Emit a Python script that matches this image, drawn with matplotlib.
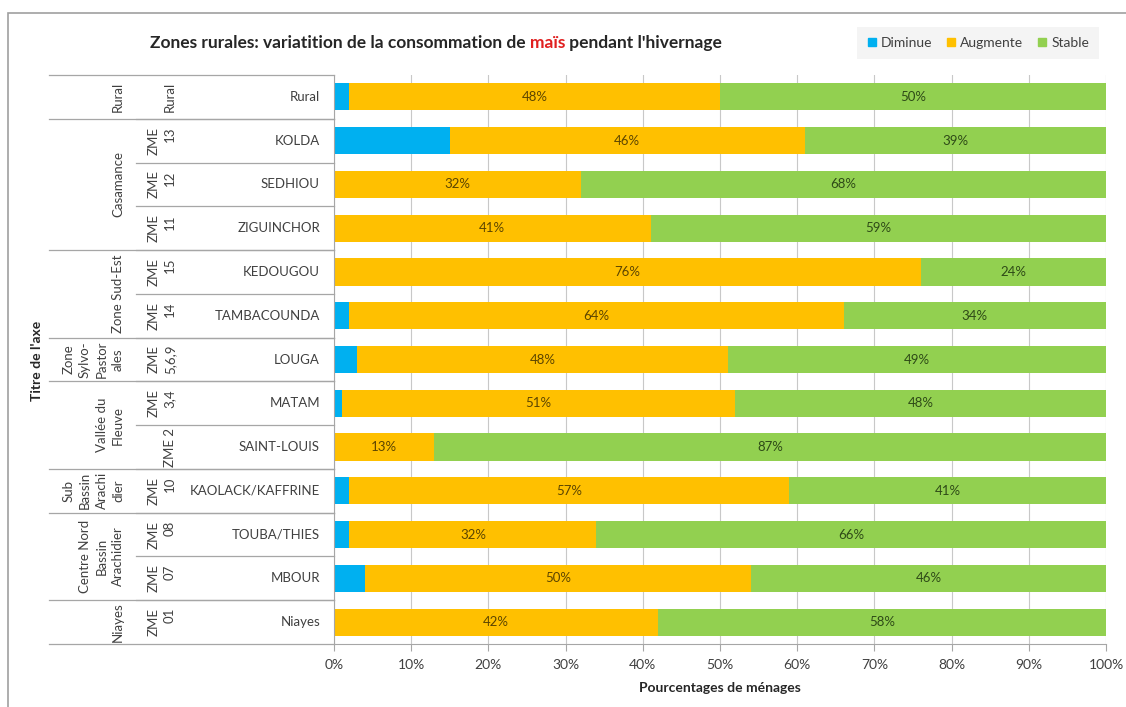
"""
Stacked horizontal bars: change in maize consumption during the rainy
season, by rural livelihood zone.
"""
import matplotlib.pyplot as plt
import numpy as np
from matplotlib.lines import Line2D
from matplotlib.patches import Rectangle
from matplotlib.transforms import blended_transform_factory

plt.rcParams["font.family"] = ["Lato", "DejaVu Sans"]

# rows from top to bottom
departements = [
    "Rural", "KOLDA", "SEDHIOU", "ZIGUINCHOR", "KEDOUGOU", "TAMBACOUNDA",
    "LOUGA", "MATAM", "SAINT-LOUIS", "KAOLACK/KAFFRINE", "TOUBA/THIES",
    "MBOUR", "Niayes",
]
zme = [
    "Rural", "ZME\n13", "ZME\n12", "ZME\n11", "ZME\n15", "ZME\n14",
    "ZME\n5,6,9", "ZME\n3,4", "ZME 2", "ZME\n10", "ZME\n08", "ZME\n07",
    "ZME\n01",
]
# (label, first row, last row)
zones = [
    ("Rural", 0, 0),
    ("Casamance", 1, 3),
    ("Zone Sud-Est", 4, 5),
    ("Zone\nSylvo-\nPastor\nales", 6, 6),
    ("Vallée du\nFleuve", 7, 8),
    ("Sub\nBassin\nArachi\ndier", 9, 9),
    ("Centre Nord\nBassin\nArachidier", 10, 11),
    ("Niayes", 12, 12),
]

diminue = [2, 15, 0, 0, 0, 2, 3, 1, 0, 2, 2, 4, 0]
augmente = [48, 46, 32, 41, 76, 64, 48, 51, 13, 57, 32, 50, 42]
stable = [50, 39, 68, 59, 24, 34, 49, 48, 87, 41, 66, 46, 58]

series = [
    ("Diminue", diminue, "#00B0F0", None),
    ("Augmente", augmente, "#FFC000", "#5c4500"),
    ("Stable", stable, "#92D050", "#2e4a17"),
]

W, H = 1126, 707
fig = plt.figure(figsize=(W / 100, H / 100), dpi=100)
ax = fig.add_axes([334 / W, 63 / H, 772 / W, 569 / H])

y = np.arange(len(departements))
left = np.zeros(len(departements))
handles = []
for name, vals, color, label_color in series:
    vals = np.array(vals, dtype=float)
    ax.barh(y, vals, left=left, height=0.62, color=color, zorder=2)
    if label_color:
        for yi, (l, v) in enumerate(zip(left, vals)):
            if v > 0:
                ax.text(l + v / 2, yi, f"{v:.0f}%", ha="center", va="center",
                        fontsize=9.5, color=label_color, zorder=3)
    left += vals
    handles.append(Line2D([], [], marker="s", linestyle="none", markersize=6,
                          color=color, label=name))

ax.set_xlim(0, 100)
ax.set_ylim(len(departements) - 0.5, -0.5)
ax.set_xticks(np.arange(0, 101, 10))
ax.set_xticklabels([f"{t}%" for t in range(0, 101, 10)], fontsize=10,
                   color="#404040")
ax.set_yticks([])
ax.grid(axis="x", color="#c8c8c8", linewidth=0.8, zorder=0)
ax.tick_params(axis="x", length=5, color="#a6a6a6", pad=6)
for side in ("top", "right"):
    ax.spines[side].set_visible(False)
for side in ("left", "bottom"):
    ax.spines[side].set_color("#a6a6a6")
ax.set_xlabel("Pourcentages de ménages", fontsize=10, fontweight="bold",
              color="#262626", labelpad=8)

# multi-level category axis on the left
tr = blended_transform_factory(fig.transFigure, ax.transData)
line_kw = dict(transform=tr, color="#a6a6a6", linewidth=0.9, clip_on=False)
for i, name in enumerate(departements):
    fig.text(320 / W, i, name, transform=tr, ha="right", va="center",
             fontsize=9.5, color="#404040")
    fig.text(176 / W, i, zme[i], transform=tr, ha="right", va="center",
             rotation=90, fontsize=9.5, color="#404040", linespacing=1.45)
    if i > 0:
        fig.add_artist(Line2D([136 / W, 334 / W], [i - 0.5, i - 0.5],
                              **line_kw))
for label, first, last in zones:
    fig.text(124 / W, (first + last) / 2, label, transform=tr, ha="right",
             va="center", rotation=90, fontsize=9.5, color="#404040",
             linespacing=1.45, multialignment="center")
    fig.add_artist(Line2D([49 / W, 334 / W], [first - 0.5, first - 0.5],
                          **line_kw))
fig.add_artist(Line2D([49 / W, 334 / W], [len(departements) - 0.5] * 2,
                      **line_kw))

fig.text(37 / W, 0.49, "Titre de l'axe", rotation=90, ha="center",
         va="center", fontsize=10, fontweight="bold", color="#262626")

# title with the crop name in red
title_kw = dict(fontsize=12.5, fontweight="bold", va="bottom")
ty = 1 - 51 / H
t1 = fig.text(150 / W, ty,
              "Zones rurales: variatition de la consommation de ",
              color="#262626", **title_kw)
t2 = fig.text(0, 0, "maïs", color="#e02020", **title_kw)
t3 = fig.text(0, 0, " pendant l'hivernage", color="#262626", **title_kw)
fig.canvas.draw()
r = fig.canvas.get_renderer()
x = t1.get_window_extent(r).x1
t2.set_position((x / W, ty))
x = t2.get_window_extent(r).x1
t3.set_position((x / W, ty))

leg = fig.legend(handles=handles, loc="center",
                 bbox_to_anchor=(978 / W, 1 - 43 / H), ncol=3, fontsize=10,
                 frameon=True, fancybox=False, handlelength=0.7,
                 handletextpad=0.3, columnspacing=1.0, borderpad=0.7)
leg.get_frame().set_facecolor("#f2f2f2")
leg.get_frame().set_edgecolor("none")
for txt in leg.get_texts():
    txt.set_color("#404040")

# chart area border
fig.add_artist(Rectangle((8 / W, -0.1), 1.2, 1 - 13 / H + 0.1,
                         transform=fig.transFigure, fill=False,
                         edgecolor="#a0a0a0", linewidth=1.2))

fig.savefig("out.png", dpi=100, facecolor="white")
